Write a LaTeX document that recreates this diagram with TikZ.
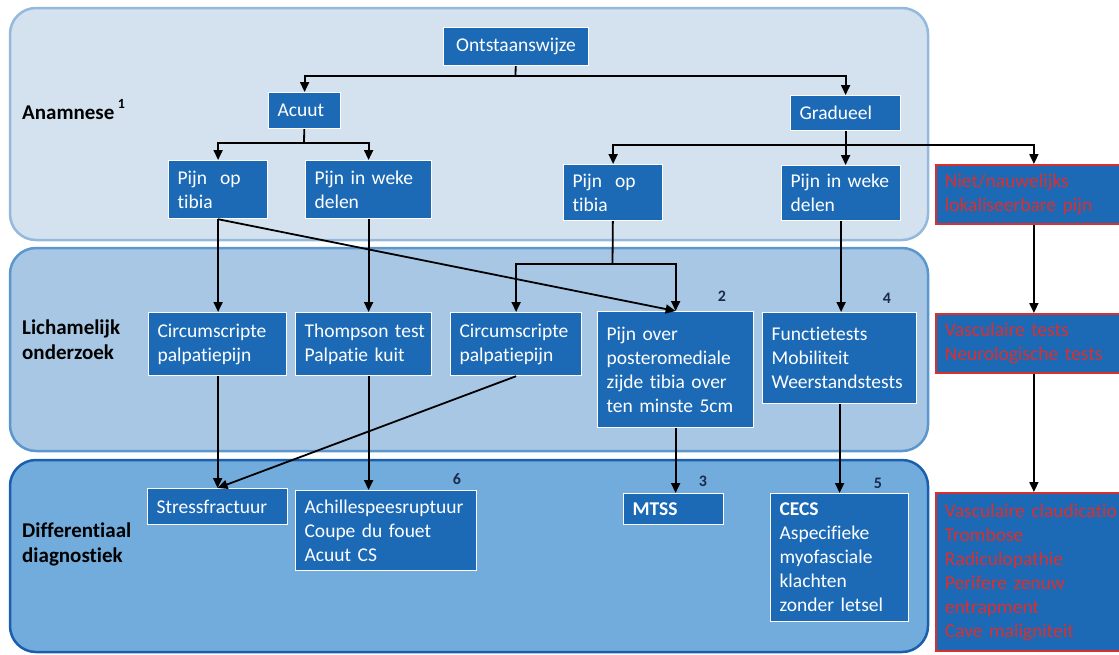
\documentclass[tikz,border=0pt]{standalone}
\usepackage{fontspec}
\setmainfont{Carlito}[Ligatures=NoCommon]
\usepackage{xcolor}
\usepackage{tikz}
\usetikzlibrary{arrows.meta, positioning, calc}
\definecolor{bandeen}{HTML}{D4E2F0}
\definecolor{bandeenrand}{HTML}{94B9DC}
\definecolor{bandtwee}{HTML}{A7C7E4}
\definecolor{bandtweerand}{HTML}{5B97CE}
\definecolor{banddrie}{HTML}{72ACDC}
\definecolor{banddrierand}{HTML}{1A5FAE}
\definecolor{vakblauw}{HTML}{1C6AB6}
\definecolor{vakrood}{HTML}{D9302F}
\definecolor{cijfer}{HTML}{1B2A4E}
\newcommand{\tekst}{\fontsize{19.5}{24}\selectfont}

\begin{document}
\begin{tikzpicture}[x=1pt, y=-1pt,
  band/.style={rounded corners=26pt, line width=2.5pt},
  blok/.style={rectangle, draw=white, line width=1.2pt, fill=vakblauw, text=white,
    anchor=north west, inner xsep=9pt, inner ysep=0pt, align=left, font=\tekst},
  rood/.style={blok, draw=vakrood, line width=1.8pt, text=vakrood},
  kop/.style={anchor=west, align=left, inner sep=0pt, font=\fontsize{21}{25}\selectfont\bfseries},
  nr/.style={font=\fontsize{16}{16}\selectfont\bfseries, text=cijfer},
  lijn/.style={line width=1.8pt, black},
  pijl/.style={lijn, -{Triangle[length=10pt, width=9pt]}},
]
  \useasboundingbox (0,0) rectangle (1119,654);
  \clip (0,0) rectangle (1119,654);

  \draw[band, fill=bandeen, draw=bandeenrand] (10,8) rectangle (928,240);
  \draw[band, fill=bandtwee, draw=bandtweerand] (10,248) rectangle (928,451);
  \draw[band, fill=banddrie, draw=banddrierand] (10,460) rectangle (928,652);

  \node[kop] (anamnese) at (22,110) {Anamnese\,\raisebox{11pt}{\fontsize{14}{14}\selectfont 1}};
  \node[kop] (lichamelijk) at (22,340) {Lichamelijk\\onderzoek};
  \node[kop] (differentiaal) at (22,544) {Differentiaal\\diagnostiek};

  \node[blok, text width=127pt, minimum height=38pt, align=center] (ont) at (443,27) {Ontstaanswijze};
  \node[blok, text width=54pt, minimum height=36pt] (acuut) at (268,92) {Acuut};
  \node[blok, text width=92pt, minimum height=35pt] (gradueel) at (790,95) {Gradueel};
  \node[blok, text width=81pt, minimum height=58pt] (tibiaL) at (168,160) {Pijn\ \ op\\tibia};
  \node[blok, text width=108pt, minimum height=58pt] (wekeL) at (305,160) {Pijn in weke\\delen};
  \node[blok, text width=81pt, minimum height=56pt] (tibiaR) at (563,164) {Pijn\ \ op\\tibia};
  \node[blok, text width=101pt, minimum height=55pt] (wekeR) at (781,165) {Pijn in weke\\delen};
  \node[rood, text width=178pt, minimum height=59pt] (niet) at (935,164) {Niet/nauwelijks\\lokaliseerbare pijn};

  \node[blok, text width=120pt, minimum height=63pt] (circL) at (148,312) {Circumscripte\\palpatiepijn};
  \node[blok, text width=118pt, minimum height=63pt] (thompson) at (295,312) {\mbox{Thompson test}\\Palpatie kuit};
  \node[blok, text width=113pt, minimum height=63pt] (circM) at (450,312) {Circumscripte\\palpatiepijn};
  \node[blok, text width=138pt, minimum height=116pt] (pover) at (597,311) {Pijn over\\posteromediale\\zijde tibia over\\ten minste 5cm};
  \node[blok, text width=136pt, minimum height=91pt] (functie) at (762,312) {Functietests\\Mobiliteit\\Weerstandstests};
  \node[rood, text width=178pt, minimum height=59pt] (vasc) at (935,313) {Vasculaire tests\\Neurologische tests};

  \node[blok, text width=122pt, minimum height=36pt] (stress) at (147,488) {Stressfractuur};
  \node[blok, text width=163pt, minimum height=80pt] (achilles) at (295,490) {Achillespeesruptuur\\Coupe du fouet\\Acuut CS};
  \node[blok, text width=82pt, minimum height=31pt] (mtss) at (623,493) {\textbf{MTSS}};
  \node[blok, text width=120pt, minimum height=128pt] (cecs) at (770,493) {\textbf{CECS}\\Aspecifieke\\myofasciale\\klachten\\zonder letsel};
  \node[rood, text width=178pt, minimum height=158pt] (diff) at (935,492) {\mbox{Vasculaire claudicatio}\\Trombose\\Radiculopathie\\Perifere zenuw\\entrapment\\Cave maligniteit};

  \node[nr] (nr2) at (722,296) {2};
  \node[nr] (nr4) at (887,298) {4};
  \node[nr] (nr6) at (457,479) {6};
  \node[nr] (nr3) at (703,481) {3};
  \node[nr] (nr5) at (878,483) {5};

  \coordinate (s1) at (515.5,76);
  \coordinate (s2) at (304,143);
  \coordinate (s3) at (845,145);
  \coordinate (s4) at (612.5,264);

  \draw[lijn] (ont) -- (s1);
  \draw[pijl] (s1) -| (acuut);
  \draw[pijl] (s1) -| (gradueel);
  \draw[lijn] (acuut) -- (s2);
  \draw[pijl] (s2) -| (tibiaL);
  \draw[pijl] (s2) -| (wekeL);
  \draw[pijl] (gradueel) -- (gradueel |- wekeR.north);
  \draw[pijl] (s3) -| (tibiaR);
  \draw[pijl] (s3) -| (niet);

  \draw[pijl] (tibiaL) -- (tibiaL |- circL.north);
  \draw[pijl] (wekeL.south) -- (wekeL.south |- thompson.north);
  \draw[pijl] (tibiaL.south) -- (pover.north);
  \draw[lijn] (tibiaR) -- (s4);
  \draw[pijl] (s4) -| (circM);
  \draw[pijl] (s4) -| (pover);
  \draw[pijl] (wekeR) -- (wekeR |- functie.north);
  \draw[pijl] (niet) -- (vasc);

  \draw[pijl] (circL) -- (circL |- stress.north);
  \draw[pijl] (circM.south) -- (stress.north);
  \draw[pijl] ([xshift=5pt]thompson.south) -- ([xshift=5pt]thompson.south |- achilles.north);
  \draw[pijl] (pover) -- (pover |- mtss.north);
  \draw[pijl] (functie) -- (functie |- cecs.north);
  \draw[pijl] (vasc) -- (diff);
\end{tikzpicture}
\end{document}
